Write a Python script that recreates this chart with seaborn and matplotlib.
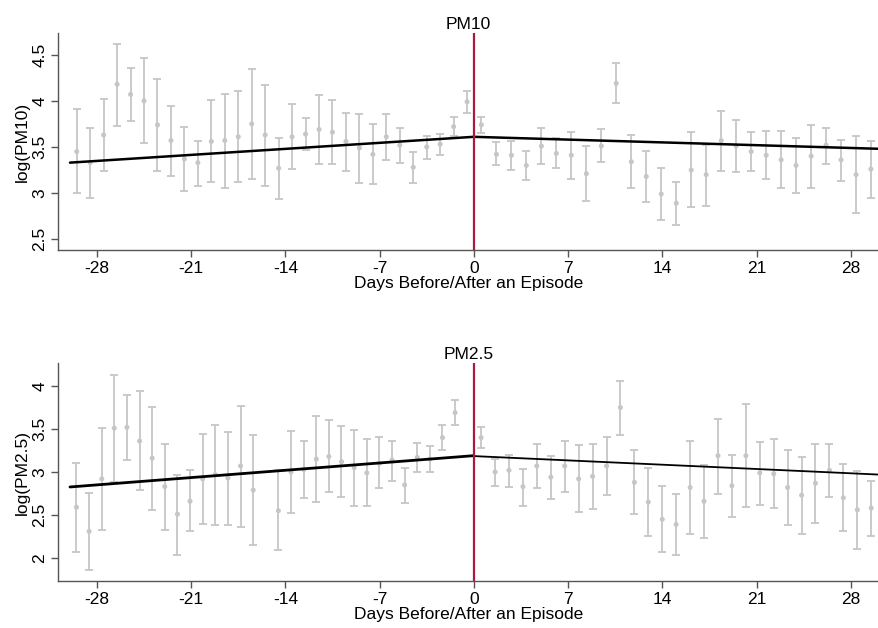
import numpy as np
import pandas as pd
import matplotlib
matplotlib.use("Agg")
import matplotlib.pyplot as plt
import seaborn as sns

# ---- data ----
# PM10, before the episode
pm10_pre_x = [-29.5, -28.5, -27.5, -26.5, -25.5, -24.5, -23.5, -22.5, -21.5, -20.5,
              -19.5, -18.5, -17.5, -16.5, -15.5, -14.5, -13.5, -12.5, -11.5, -10.5,
              -9.5, -8.5, -7.5, -6.5, -5.5, -4.5, -3.5, -2.5, -1.5, -0.5]
pm10_pre_y = [3.45, 3.33, 3.63, 4.18, 4.07, 4.00, 3.74, 3.57, 3.37, 3.33,
              3.56, 3.57, 3.61, 3.75, 3.63, 3.27, 3.61, 3.64, 3.69, 3.66,
              3.56, 3.49, 3.42, 3.61, 3.52, 3.28, 3.50, 3.53, 3.72, 3.99]
pm10_pre_lo = [3.00, 2.95, 3.24, 3.73, 3.78, 3.54, 3.24, 3.19, 3.02, 3.08,
               3.12, 3.06, 3.12, 3.15, 3.08, 2.94, 3.26, 3.47, 3.31, 3.32,
               3.24, 3.11, 3.10, 3.36, 3.33, 3.11, 3.37, 3.41, 3.62, 3.87]
pm10_pre_hi = [3.91, 3.71, 4.02, 4.62, 4.36, 4.46, 4.24, 3.94, 3.72, 3.57,
               4.01, 4.07, 4.11, 4.35, 4.17, 3.60, 3.97, 3.81, 4.06, 4.01,
               3.87, 3.86, 3.75, 3.86, 3.71, 3.45, 3.62, 3.64, 3.83, 4.11]

# PM10, after the episode
pm10_post_x = [0.56, 1.68, 2.79, 3.90, 5.02, 6.13, 7.24, 8.36, 9.47, 10.58,
               11.70, 12.81, 13.92, 15.04, 16.15, 17.26, 18.38, 19.49, 20.60, 21.72,
               22.83, 23.94, 25.06, 26.17, 27.28, 28.40, 29.50]
pm10_post_y = [3.74, 3.42, 3.41, 3.30, 3.51, 3.43, 3.41, 3.21, 3.51, 4.19,
               3.34, 3.18, 2.99, 2.89, 3.25, 3.20, 3.57, 3.51, 3.45, 3.41,
               3.36, 3.30, 3.40, 3.52, 3.36, 3.20, 3.26]
pm10_post_lo = [3.65, 3.30, 3.25, 3.14, 3.32, 3.27, 3.15, 2.91, 3.34, 3.98,
                3.05, 2.90, 2.71, 2.65, 2.85, 2.86, 3.24, 3.23, 3.24, 3.15,
                3.05, 3.00, 3.06, 3.32, 3.13, 2.78, 2.95]
pm10_post_hi = [3.83, 3.55, 3.56, 3.46, 3.71, 3.60, 3.66, 3.51, 3.69, 4.41,
                3.63, 3.46, 3.27, 3.12, 3.66, 3.52, 3.89, 3.79, 3.66, 3.67,
                3.67, 3.60, 3.74, 3.71, 3.58, 3.62, 3.56]

# PM2.5, before the episode
pm25_pre_x = [-29.52, -28.58, -27.64, -26.71, -25.77, -24.83, -23.89, -22.96, -22.02, -21.08,
              -20.14, -19.20, -18.27, -17.33, -16.39, -14.52, -13.58, -12.64, -11.70, -10.77,
              -9.83, -8.89, -7.95, -7.02, -6.08, -5.14, -4.20, -3.26, -2.33, -1.39]
pm25_pre_y = [2.59, 2.31, 2.92, 3.51, 3.52, 3.36, 3.16, 2.83, 2.51, 2.66,
              2.92, 2.97, 2.93, 3.07, 2.79, 2.55, 3.00, 3.03, 3.15, 3.18,
              3.12, 3.05, 2.99, 3.10, 3.14, 2.85, 3.17, 3.15, 3.40, 3.69]
pm25_pre_lo = [2.07, 1.86, 2.33, 2.88, 3.14, 2.79, 2.56, 2.32, 2.04, 2.31,
               2.39, 2.38, 2.38, 2.36, 2.15, 2.09, 2.52, 2.70, 2.65, 2.77,
               2.71, 2.60, 2.60, 2.81, 2.90, 2.64, 3.00, 3.00, 3.26, 3.55]
pm25_pre_hi = [3.11, 2.76, 3.51, 4.13, 3.90, 3.94, 3.76, 3.33, 2.97, 3.02,
               3.44, 3.55, 3.47, 3.77, 3.43, 3.02, 3.48, 3.36, 3.65, 3.60,
               3.53, 3.49, 3.38, 3.41, 3.36, 3.05, 3.34, 3.30, 3.55, 3.84]

# PM2.5, after the episode
pm25_post_x = [0.54, 1.58, 2.61, 3.65, 4.68, 5.72, 6.75, 7.79, 8.82, 9.86,
               10.89, 11.93, 12.96, 14.00, 15.03, 16.07, 17.10, 18.14, 19.17, 20.21,
               21.24, 22.28, 23.31, 24.35, 25.38, 26.42, 27.45, 28.49, 29.52]
pm25_post_y = [3.40, 3.00, 3.02, 2.83, 3.07, 2.94, 3.07, 2.92, 2.95, 3.07,
               3.75, 2.88, 2.65, 2.45, 2.39, 2.82, 2.66, 3.19, 2.84, 3.19,
               2.99, 2.98, 2.82, 2.73, 2.87, 3.02, 2.70, 2.56, 2.58]
pm25_post_lo = [3.28, 2.84, 2.83, 2.61, 2.81, 2.69, 2.77, 2.53, 2.57, 2.73,
                3.43, 2.51, 2.26, 2.07, 2.03, 2.28, 2.23, 2.75, 2.48, 2.59,
                2.62, 2.58, 2.38, 2.28, 2.41, 2.71, 2.31, 2.11, 2.26]
pm25_post_hi = [3.52, 3.15, 3.20, 3.03, 3.32, 3.19, 3.36, 3.31, 3.32, 3.41,
                4.06, 3.26, 3.05, 2.84, 2.75, 3.36, 3.08, 3.62, 3.20, 3.79,
                3.35, 3.38, 3.26, 3.18, 3.33, 3.32, 3.09, 3.01, 2.90]

# fitted lines (end points)
pm10_fit_pre = ([-30, 0], [3.33, 3.61])
pm10_fit_post = ([0, 30.1], [3.61, 3.48])
pm25_fit_pre = ([-30, 0], [2.826, 3.19])
pm25_fit_post = ([0, 30.1], [3.185, 2.97])

x_ticks = [-28, -21, -14, -7, 0, 7, 14, 21, 28]

# ---- plotting ----
sns.set_theme(style="white")
plt.rcParams['font.family'] = ['Liberation Sans', 'DejaVu Sans']
plt.rcParams['axes.unicode_minus'] = False
plt.rcParams['text.color'] = 'black'
plt.rcParams['axes.labelcolor'] = 'black'
plt.rcParams['xtick.labelcolor'] = 'black'
plt.rcParams['ytick.labelcolor'] = 'black'

GREY = "#c6c6c6"
RED = "#ab1a3e"
FS = 12.5

fig = plt.figure(figsize=(8.79, 6.28), dpi=100)
ax_top = fig.add_axes([0.0663, 0.602, 0.9337, 0.345])
ax_bot = fig.add_axes([0.0663, 0.0753, 0.9337, 0.3462])


def draw_panel(ax, parts, fits, title, ylabel, ylim, yticks, yticklabels, fit_lw):
    for x, y, lo, hi in parts:
        y = np.array(y)
        err = [y - np.array(lo), np.array(hi) - y]
        ax.errorbar(x, y, yerr=err, fmt='none', ecolor=GREY, elinewidth=1.3,
                    capsize=3, capthick=1.3, zorder=1)
        df = pd.DataFrame({"x": x, "y": y})
        sns.scatterplot(data=df, x="x", y="y", ax=ax, color=GREY, s=13,
                        edgecolor='none', zorder=2, legend=False)
    for (fx, fy), lw in zip(fits, fit_lw):
        sns.lineplot(x=fx, y=fy, ax=ax, color="black", linewidth=lw, zorder=3)
    ax.axvline(0, color=RED, linewidth=1.6, zorder=4)

    ax.set_xlim(-30.87, 30.1)
    ax.set_ylim(*ylim)
    ax.set_xticks(x_ticks)
    ax.set_xticklabels([str(t) for t in x_ticks], fontsize=FS)
    ax.set_yticks(yticks)
    ax.set_yticklabels(yticklabels, fontsize=FS, rotation=90, va='center')
    ax.set_xlabel("Days Before/After an Episode", fontsize=FS, labelpad=0)
    ax.set_ylabel(ylabel, fontsize=FS, labelpad=2)
    ax.set_title(title, fontsize=FS, pad=3, color='black')

    for side in ["top", "right"]:
        ax.spines[side].set_visible(False)
    for side in ["left", "bottom"]:
        ax.spines[side].set_color("#555555")
        ax.spines[side].set_linewidth(1.0)
    ax.tick_params(axis='both', direction='out', length=5, width=1.0,
                   color="#555555", labelcolor='black', pad=3, left=True, bottom=True)
    ax.grid(False)


draw_panel(ax_top,
           [(pm10_pre_x, pm10_pre_y, pm10_pre_lo, pm10_pre_hi),
            (pm10_post_x, pm10_post_y, pm10_post_lo, pm10_post_hi)],
           [pm10_fit_pre, pm10_fit_post],
           "PM10", "log(PM10)", (2.383, 4.733),
           [2.5, 3, 3.5, 4, 4.5], ["2.5", "3", "3.5", "4", "4.5"], [1.8, 1.8])

draw_panel(ax_bot,
           [(pm25_pre_x, pm25_pre_y, pm25_pre_lo, pm25_pre_hi),
            (pm25_post_x, pm25_post_y, pm25_post_lo, pm25_post_hi)],
           [pm25_fit_pre, pm25_fit_post],
           "PM2.5", "log(PM2.5)", (1.736, 4.264),
           [2, 2.5, 3, 3.5, 4], ["2", "2.5", "3", "3.5", "4"], [2.0, 1.3])

fig.savefig("out.png", dpi=100)
